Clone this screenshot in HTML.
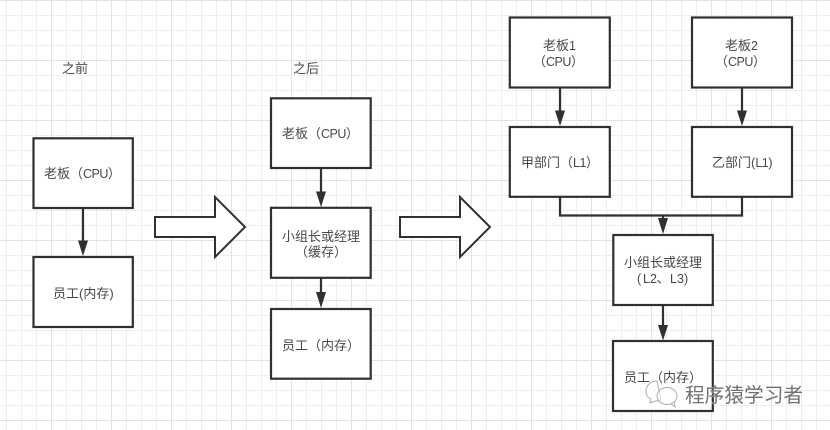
<!DOCTYPE html>
<html><head><meta charset="utf-8">
<style>html,body{margin:0;padding:0;background:#fff}svg{display:block}
text{font-family:"Liberation Sans","Noto Sans CJK SC",sans-serif;font-size:13px;fill:#484848}
.l{font-size:12.500px;letter-spacing:-.5px}.m{font-size:12.500px}</style></head>
<body>
<svg width="830" height="430" viewBox="0 0 830 430" xmlns="http://www.w3.org/2000/svg">
<defs>
<pattern id="g" x="6" y="0" width="15" height="15" patternUnits="userSpaceOnUse"><path d="M.5 0V15M0 .5H15" stroke="#eeeeee" fill="none"/></pattern>
<pattern id="G" x="51" y="0" width="60" height="60" patternUnits="userSpaceOnUse"><path d="M.5 0V60M0 .5H60" stroke="#e2e2e2" fill="none"/></pattern>
</defs>
<rect width="830" height="430" fill="#fff"/>
<rect width="830" height="430" fill="url(#g)"/>
<rect width="830" height="430" fill="url(#G)"/>
<g fill="#fff" stroke="#303030" stroke-width="2.200">
<rect x="33.500" y="138.300" width="99.300" height="69.700"/>
<rect x="33.500" y="257" width="99.300" height="70"/>
<rect x="271" y="98.300" width="99.700" height="69.700"/>
<rect x="271" y="207.800" width="99.700" height="70"/>
<rect x="271" y="309" width="99.700" height="69.700"/>
<rect x="509.800" y="17.500" width="100" height="70"/>
<rect x="692" y="17.500" width="100" height="70"/>
<rect x="509.800" y="127" width="100" height="69.800"/>
<rect x="692" y="127" width="100" height="69.800"/>
<rect x="613.300" y="235" width="99.500" height="70"/>
<rect x="613" y="341" width="99.800" height="70"/>
</g>
<g fill="#fff" stroke="#303030" stroke-width="2">
<path d="M155 217H215V197L245 227L215 257V237H155Z"/>
<path d="M400 217H460V197L490 227L460 257V237H400Z"/>
</g>
<g fill="none" stroke="#303030" stroke-width="2.200">
<path d="M83 208V245M321 168V196M321 278V296M560 87V115M742 87V115M560 197V215.500H742V197M663 215V222M663 305V330"/>
</g>
<g fill="#303030">
<path d="M78 240.500H88L83 256Z"/>
<path d="M316 191.500H326L321 207Z"/>
<path d="M316 292H326L321 308Z"/>
<path d="M555 110.500H565L560 126Z"/>
<path d="M737 110.500H747L742 126Z"/>
<path d="M658 218H668L663 234Z"/>
<path d="M658 325H668L663 340.500Z"/>
</g>
<text x="62" y="73">之前</text>
<text x="293" y="73">之后</text>
<text x="44" y="178">老板（<tspan class="l">CPU</tspan>）</text>
<text x="53" y="298">员工(内存)</text>
<text x="282" y="138">老板（<tspan class="l">CPU</tspan>）</text>
<text x="282" y="241">小组长或经理</text>
<text x="295" y="256.500">（缓存）</text>
<text x="282" y="350">员工（内存）</text>
<text x="543" y="50">老板<tspan class="m">1</tspan></text>
<text x="533" y="66">（<tspan class="l">CPU</tspan>）</text>
<text x="725" y="50">老板<tspan class="m">2</tspan></text>
<text x="715" y="66">（<tspan class="l">CPU</tspan>）</text>
<text x="521" y="167">甲部门（<tspan class="l">L1</tspan>）</text>
<text x="712" y="167">乙部门(<tspan class="l">L1</tspan>)</text>
<text x="624" y="267">小组长或经理</text>
<text x="637" y="283"><tspan class="m">(</tspan><tspan class="m" x="643">L2</tspan><tspan x="656.500">、</tspan><tspan class="m" x="670">L3</tspan><tspan class="m" x="684">)</tspan></text>
<text x="624" y="382">员工（内存）</text>
<g fill="#fff" fill-opacity=".55" stroke="#adadad" stroke-width="1">
<path d="M657 381C650 381 646 386 646 391C646 395 648 398 651 399L650 403L656 401C658 401 660 401 661 400Z"/>
<ellipse cx="667" cy="396" rx="10" ry="8.500"/>
<path d="M671 404L675 407L674 402Z"/>
</g>
<text x="685" y="402" style="font-size:19.700px;fill:#707070;stroke:#fff;stroke-width:.6px;stroke-opacity:.7;paint-order:stroke">程序猿学习者</text>
</svg>
</body></html>
